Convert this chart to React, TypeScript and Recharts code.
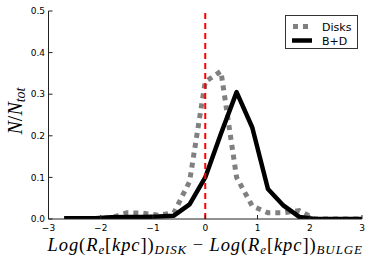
import React from 'react';
import { LineChart, Line, XAxis, YAxis, ReferenceLine, Legend } from 'recharts';

const binCenters = [-2.7, -2.4, -2.1, -1.8, -1.5, -1.2, -0.9, -0.6, -0.3, 0, 0.3, 0.6, 0.9, 1.2, 1.5, 1.8, 2.1, 2.4, 2.7, 3.0];
const disksFrac = [0, 0, 0, 0.003, 0.015, 0.014, 0.009, 0.015, 0.09, 0.33, 0.355, 0.1, 0.031, 0.015, 0.015, 0.02, 0, 0, 0, 0];
const bdFrac = [0.002, 0.002, 0.002, 0.004, 0.005, 0.005, 0.006, 0.008, 0.035, 0.1, 0.205, 0.305, 0.22, 0.072, 0.032, 0.005, 0, 0, 0, 0];
const xTicks = [-3, -2, -1, 0, 1, 2, 3];
const yTicks = [0, 0.1, 0.2, 0.3, 0.4, 0.5];
const seriesNames = ['Disks', 'B+D'];

const data = binCenters.map((x, i) => ({ x, disks: disksFrac[i], bd: bdFrac[i] }));

const TICK_FONT = 'DejaVu Sans';
const TICK_LEN = 4;
const AX = '#222';

const fmtX = (v: number) => (v < 0 ? '\u2212' + Math.abs(v) : String(v));

const BottomTick = (p: any) => (
  <g>
    <line x1={p.x} x2={p.x} y1={p.y} y2={p.y - TICK_LEN} stroke={AX} strokeWidth={1} />
    <text x={p.x} y={p.y + 11.5} textAnchor="middle" fontFamily={TICK_FONT} fontSize={9} fill="#000">
      {fmtX(p.payload.value)}
    </text>
  </g>
);
const TopTick = (p: any) => (
  <line x1={p.x} x2={p.x} y1={p.y} y2={p.y + TICK_LEN} stroke={AX} strokeWidth={1} />
);
const LeftTick = (p: any) => (
  <g>
    <line x1={p.x} x2={p.x + TICK_LEN} y1={p.y} y2={p.y} stroke={AX} strokeWidth={1} />
    <text x={p.x - 3.5} y={p.y + 3.2} textAnchor="end" fontFamily={TICK_FONT} fontSize={9} fill="#000">
      {p.payload.value.toFixed(1)}
    </text>
  </g>
);
const RightTick = (p: any) => (
  <line x1={p.x} x2={p.x - TICK_LEN} y1={p.y} y2={p.y} stroke={AX} strokeWidth={1} />
);

const XLabel = (props: any) => {
  const vb = props.viewBox || { x: 48.5, width: 313.5, y: 219 };
  const cx = vb.x + vb.width / 2;
  const sub = { fontSize: 13, fontStyle: 'italic' as const };
  return (
    <text
      x={cx}
      y={251}
      textAnchor="middle"
      fontFamily="Liberation Serif"
      fontSize={18.5}
      letterSpacing={0.9}
      fill="#000"
    >
      <tspan fontStyle="italic">Log</tspan>
      <tspan>(</tspan>
      <tspan fontStyle="italic">R</tspan>
      <tspan {...sub} dy={3}>e</tspan>
      <tspan dy={-3}>[</tspan>
      <tspan fontStyle="italic">kpc</tspan>
      <tspan>])</tspan>
      <tspan {...sub} dy={3}>DISK</tspan>
      <tspan dy={-3}>{' \u2212 '}</tspan>
      <tspan fontStyle="italic">Log</tspan>
      <tspan>(</tspan>
      <tspan fontStyle="italic">R</tspan>
      <tspan {...sub} dy={3}>e</tspan>
      <tspan dy={-3}>[</tspan>
      <tspan fontStyle="italic">kpc</tspan>
      <tspan>])</tspan>
      <tspan {...sub} dy={3}>BULGE</tspan>
    </text>
  );
};

const YLabel = () => (
  <text
    x={0}
    y={0}
    transform="translate(22,111) rotate(-90)"
    textAnchor="middle"
    fontFamily="Liberation Serif"
    fontSize={20}
    fill="#000"
  >
    <tspan fontStyle="italic">N</tspan>
    <tspan>/</tspan>
    <tspan fontStyle="italic">N</tspan>
    <tspan fontStyle="italic" fontSize={14} dy={3}>tot</tspan>
  </text>
);

const LegendBox = () => (
  <svg width={74} height={35} style={{ display: 'block' }}>
    <rect x={0.5} y={0.5} width={72} height={33} fill="#fff" stroke="#333" strokeWidth={1} />
    <line x1={8} x2={27} y1={11.5} y2={11.5} stroke="#808080" strokeWidth={5} strokeDasharray="5 5" />
    <text x={37} y={15.5} fontFamily={TICK_FONT} fontSize={11} fill="#000">{seriesNames[0]}</text>
    <line x1={7} x2={27} y1={25.5} y2={25.5} stroke="#000" strokeWidth={4.5} />
    <text x={37} y={29.5} fontFamily={TICK_FONT} fontSize={11} fill="#000">{seriesNames[1]}</text>
  </svg>
);

export default function App() {
  return (
    <div style={{ position: 'absolute', left: 0, top: 0, width: 374, height: 263, background: '#fff' }}>
      <LineChart width={374} height={263} data={data} margin={{ top: 11, right: 12, bottom: 0, left: 0 }}>
        <XAxis
          dataKey="x"
          type="number"
          domain={[-3, 3]}
          ticks={xTicks}
          allowDataOverflow
          height={44}
          tickSize={0}
          tickMargin={0}
          tick={<BottomTick />}
          axisLine={{ stroke: AX, strokeWidth: 1 }}
          tickLine={false}
          label={<XLabel />}
        />
        <XAxis
          xAxisId="top"
          orientation="top"
          dataKey="x"
          type="number"
          domain={[-3, 3]}
          ticks={xTicks}
          allowDataOverflow
          height={0}
          tickSize={0}
          tickMargin={0}
          tick={<TopTick />}
          axisLine={{ stroke: AX, strokeWidth: 1 }}
          tickLine={false}
        />
        <YAxis
          type="number"
          domain={[0, 0.5]}
          ticks={yTicks}
          allowDataOverflow
          width={48.5}
          tickSize={0}
          tickMargin={0}
          tick={<LeftTick />}
          axisLine={{ stroke: AX, strokeWidth: 1 }}
          tickLine={false}
          label={<YLabel />}
        />
        <YAxis
          yAxisId="right"
          orientation="right"
          type="number"
          domain={[0, 0.5]}
          ticks={yTicks}
          allowDataOverflow
          width={0}
          tickSize={0}
          tickMargin={0}
          tick={<RightTick />}
          axisLine={{ stroke: AX, strokeWidth: 1 }}
          tickLine={false}
        />
        <Line
          dataKey="disks"
          name={seriesNames[0]}
          type="linear"
          stroke="#808080"
          strokeWidth={5}
          strokeDasharray="5 5"
          dot={false}
          activeDot={false}
          isAnimationActive={false}
        />
        <Line
          dataKey="bd"
          name={seriesNames[1]}
          type="linear"
          stroke="#000"
          strokeWidth={4.5}
          strokeLinejoin="round"
          dot={false}
          activeDot={false}
          isAnimationActive={false}
        />
        <ReferenceLine x={0} stroke="#ff0000" strokeWidth={2} strokeDasharray="6 4" />
        <Legend
          layout="vertical"
          align="center"
          verticalAlign="middle"
          content={<LegendBox />}
          wrapperStyle={{ position: 'absolute', left: 285, top: 15, width: 74, height: 35 }}
        />
      </LineChart>
    </div>
  );
}
